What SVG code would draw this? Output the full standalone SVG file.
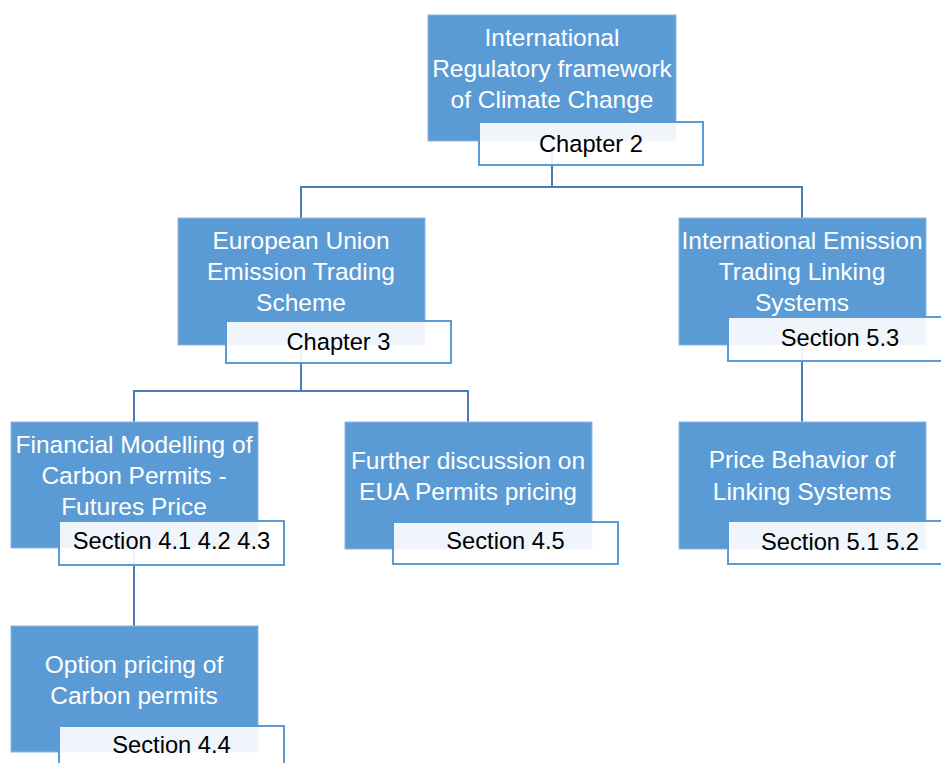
<svg xmlns="http://www.w3.org/2000/svg" width="941" height="763" viewBox="0 0 941 763">
<style>
.node{fill:#5B9BD5;stroke:#8DB6E2;stroke-width:1}
.lbl{fill:#ffffff;fill-opacity:0.9;stroke:#5B9BD5;stroke-width:2}
.t{font-family:"Liberation Sans",Arial,sans-serif;font-size:24.5px;fill:#ffffff;text-anchor:middle}
.s{font-family:"Liberation Sans",Arial,sans-serif;font-size:23.7px;fill:#000000;text-anchor:middle}
.c{fill:none;stroke:#4A7EBB;stroke-width:2}
</style>
<rect width="941" height="763" fill="#ffffff"/>
<g id="connectors">
<path class="c" d="M552,141 V187 M301,218 V187 H802 V218"/>
<path class="c" d="M301,345 V391 M134,422 V391 H468 V422"/>
<path class="c" d="M134,548 V626"/>
<path class="c" d="M802,345 V422"/>
</g>
<g id="n1">
<rect class="node" x="428" y="15" width="248" height="126"/>
<rect class="lbl" x="479" y="122" width="224" height="43"/>
<text class="t" x="552" y="46">International</text>
<text class="t" x="552" y="77">Regulatory framework</text>
<text class="t" x="552" y="108">of Climate Change</text>
<text class="s" x="591" y="152">Chapter 2</text>
</g>
<g id="n2">
<rect class="node" x="178" y="218" width="247" height="127"/>
<rect class="lbl" x="226" y="321" width="225" height="42"/>
<text class="t" x="301" y="249">European Union</text>
<text class="t" x="301" y="280">Emission Trading</text>
<text class="t" x="301" y="311">Scheme</text>
<text class="s" x="338.5" y="350">Chapter 3</text>
</g>
<g id="n3">
<rect class="node" x="679" y="218" width="247" height="127"/>
<rect class="lbl" x="728" y="317" width="225" height="44"/>
<text class="t" x="802" y="249">International Emission</text>
<text class="t" x="802" y="280">Trading Linking</text>
<text class="t" x="802" y="311">Systems</text>
<text class="s" x="840" y="346">Section 5.3</text>
</g>
<g id="n4">
<rect class="node" x="11" y="422" width="247" height="126"/>
<rect class="lbl" x="59" y="521" width="225" height="44"/>
<text class="t" x="134" y="453">Financial Modelling of</text>
<text class="t" x="134" y="484">Carbon Permits -</text>
<text class="t" x="134" y="515">Futures Price</text>
<text class="s" x="171.5" y="549">Section 4.1 4.2 4.3</text>
</g>
<g id="n5">
<rect class="node" x="345" y="422" width="247" height="127"/>
<rect class="lbl" x="393" y="522" width="225" height="42"/>
<text class="t" x="468" y="469">Further discussion on</text>
<text class="t" x="468" y="500">EUA Permits pricing</text>
<text class="s" x="505.5" y="549">Section 4.5</text>
</g>
<g id="n6">
<rect class="node" x="679" y="422" width="247" height="127"/>
<rect class="lbl" x="728" y="521" width="225" height="43"/>
<text class="t" x="802" y="468">Price Behavior of</text>
<text class="t" x="802" y="500">Linking Systems</text>
<text class="s" x="840" y="550">Section 5.1 5.2</text>
</g>
<g id="n7">
<rect class="node" x="11" y="626" width="247" height="126"/>
<rect class="lbl" x="59" y="726" width="225" height="44"/>
<text class="t" x="134" y="673">Option pricing of</text>
<text class="t" x="134" y="704">Carbon permits</text>
<text class="s" x="171.5" y="753">Section 4.4</text>
</g>
</svg>
